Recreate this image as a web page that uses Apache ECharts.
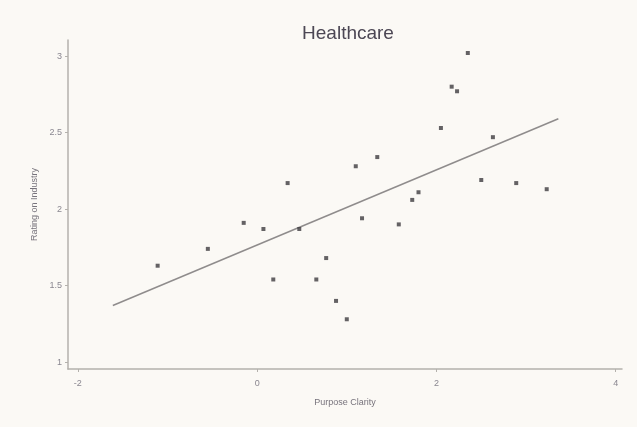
<!DOCTYPE html>
<html>
<head>
<meta charset="utf-8">
<script src="https://cdn.jsdelivr.net/npm/echarts@6/dist/echarts.min.js"></script>
<style>
  html, body { margin: 0; padding: 0; background: #fbf9f5; }
  #chart { width: 637px; height: 427px; }
</style>
</head>
<body>
<div id="chart"></div>
<script>
// Purpose clarity vs. industry rating, one point per company
const purposeClarity = [
  -1.11, -0.55, -0.15, 0.07, 0.18, 0.34, 0.47, 0.66, 0.77, 0.88,
  1.00, 1.10, 1.17, 1.34, 1.58, 1.73, 1.80, 2.05, 2.17, 2.23,
  2.35, 2.50, 2.63, 2.89, 3.23
];
const industryRating = [
  1.63, 1.74, 1.91, 1.87, 1.54, 2.17, 1.87, 1.54, 1.68, 1.40,
  1.28, 2.28, 1.94, 2.34, 1.90, 2.06, 2.11, 2.53, 2.80, 2.77,
  3.02, 2.19, 2.47, 2.17, 2.13
];
// Fitted trend line end points
const trendX = [-1.61, 3.36];
const trendY = [1.37, 2.59];
// Tick labels
const xTicks = [-2, 0, 2, 4];
const yTicks = [1, 1.5, 2, 2.5, 3];

const points = purposeClarity.map((x, i) => [x, industryRating[i]]);
const trend = trendX.map((x, i) => [x, trendY[i]]);

const axisGray = '#b4b1ac';
const labelGray = '#8a8790';
const font = 'Liberation Sans, Arial, sans-serif';

const chart = echarts.init(document.getElementById('chart'), null, { renderer: 'canvas' });
chart.setOption({
  backgroundColor: '#fbf9f5',
  animation: false,
  title: {
    text: 'Healthcare',
    left: 343,
    textAlign: 'center',
    top: 19,
    textStyle: { fontFamily: font, fontSize: 19, fontWeight: 'normal', color: '#4c4754' }
  },
  grid: { left: 68, right: 15, top: 40, bottom: 58 },
  xAxis: {
    type: 'value',
    min: -2.11,
    max: 4.07,
    name: 'Purpose Clarity',
    nameLocation: 'middle',
    nameGap: 29,
    nameTextStyle: { fontFamily: font, fontSize: 9, color: '#77737c' },
    axisLine: { show: true, onZero: false, lineStyle: { color: axisGray, width: 1.5 } },
    axisTick: { show: true, length: 3, customValues: xTicks, lineStyle: { color: axisGray } },
    axisLabel: { customValues: xTicks, fontFamily: font, fontSize: 9, color: labelGray, margin: 10 },
    splitLine: { show: false }
  },
  yAxis: {
    type: 'value',
    min: 0.955,
    max: 3.105,
    name: 'Rating on Industry',
    nameLocation: 'middle',
    nameGap: 29,
    nameRotate: 90,
    nameTextStyle: { fontFamily: font, fontSize: 9, color: '#77737c' },
    axisLine: { show: true, onZero: false, lineStyle: { color: axisGray, width: 1.5 } },
    axisTick: { show: true, length: 3, customValues: yTicks, lineStyle: { color: axisGray } },
    axisLabel: { customValues: yTicks, fontFamily: font, fontSize: 9, color: labelGray, margin: 6 },
    splitLine: { show: false }
  },
  series: [
    {
      type: 'line',
      data: trend,
      symbol: 'none',
      lineStyle: { color: '#8f8c8c', width: 1.5 },
      silent: true,
      z: 1
    },
    {
      type: 'scatter',
      data: points,
      symbol: 'rect',
      symbolSize: 4,
      itemStyle: { color: '#3f3c40' },
      z: 2
    }
  ]
});
</script>
</body>
</html>
